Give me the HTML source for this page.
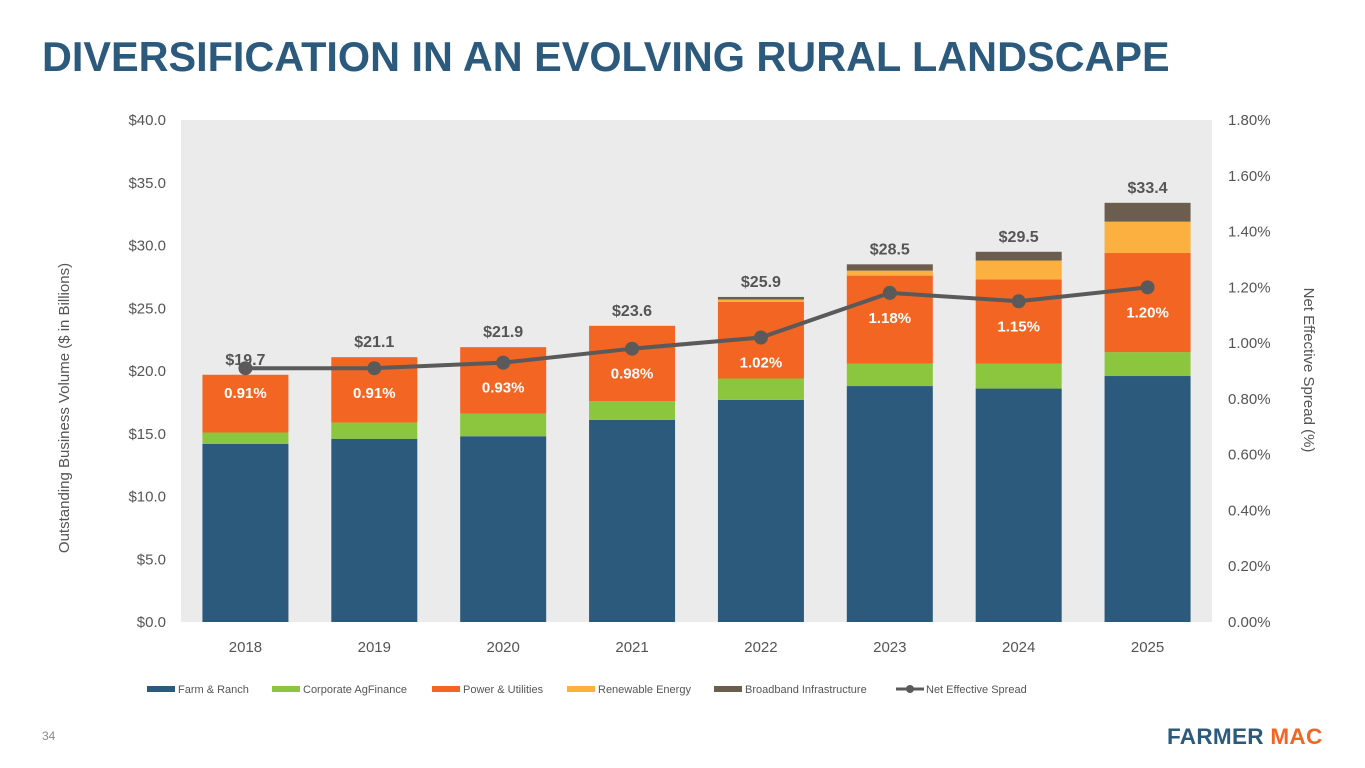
<!DOCTYPE html>
<html><head><meta charset="utf-8"><style>
body{margin:0;width:1365px;height:768px;background:#fff;font-family:"Liberation Sans",sans-serif;overflow:hidden;position:relative}
#title{position:absolute;left:42px;top:34px;font-size:41.4px;font-weight:bold;color:#2b5a7d;letter-spacing:0px;margin:0}
#pg{position:absolute;left:42px;top:729px;font-size:12px;color:#888}
#logo{position:absolute;left:1167px;top:724px;font-size:22.5px;font-weight:bold;color:#2b5a7d;letter-spacing:0.3px}
#logo span{color:#f26522}
svg{position:absolute;left:0;top:0}
</style></head><body>
<h1 id="title">DIVERSIFICATION IN AN EVOLVING RURAL LANDSCAPE</h1>
<div id="pg">34</div>
<div id="logo">FARMER <span>MAC</span></div>
<svg id="chart" width="1365" height="768"></svg>
<script>
const years=["2018","2019","2020","2021","2022","2023","2024","2025"];
const farm=[14.2,14.6,14.8,16.1,17.7,18.8,18.6,19.6];
const corp=[0.9,1.3,1.8,1.5,1.7,1.8,2.0,1.9];
const power=[4.6,5.2,5.3,6.0,6.1,7.0,6.7,7.9];
const renew=[0,0,0,0,0.2,0.4,1.5,2.5];
const broad=[0,0,0,0,0.2,0.5,0.7,1.5];
const totals=["$19.7","$21.1","$21.9","$23.6","$25.9","$28.5","$29.5","$33.4"];
const spread=[0.91,0.91,0.93,0.98,1.02,1.18,1.15,1.20];
const leftTicks=[0,5,10,15,20,25,30,35,40];
const rightTicks=[0,0.2,0.4,0.6,0.8,1.0,1.2,1.4,1.6,1.8];
const seriesNames=["Farm & Ranch","Corporate AgFinance","Power & Utilities","Renewable Energy","Broadband Infrastructure"];
const colors=["#2b5a7d","#8cc63f","#f26522","#fbb040","#6b5e4f"];
const PX0=181,PX1=1212,PY0=622,PY1=120;
const y=v=>PY0-(v/40)*(PY0-PY1);
const yr=v=>PY0-(v/1.8)*(PY0-PY1);
const step=(PX1-PX0)/years.length;
const xc=i=>PX0+step*(i+0.5);
const BW=86;
const svg=document.getElementById('chart');
const NS="http://www.w3.org/2000/svg";
function mk(t,a,txt){const e=document.createElementNS(NS,t);for(const k in a)e.setAttribute(k,a[k]);if(txt!=null)e.textContent=txt;svg.appendChild(e);return e;}
let e=mk('rect',{x:PX0,y:PY1,width:PX1-PX0,height:PY0-PY1,fill:'#ebebeb'});


leftTicks.forEach(t=>{e=mk('text',{x:166,y:y(t)+5,'text-anchor':'end','font-size':15,fill:'#555'},'$'+t.toFixed(1));

});
rightTicks.forEach(t=>{e=mk('text',{x:1228,y:yr(t)+5,'font-size':15,fill:'#555'},t.toFixed(2)+'%');

});
const segs=[farm,corp,power,renew,broad];
years.forEach((yrL,i)=>{
 let base=0;
 segs.forEach((s,k)=>{const v=s[i];if(v>0){e=mk('rect',{x:xc(i)-BW/2,y:y(base+v),width:BW,height:y(base)-y(base+v),fill:colors[k]});
 
 }base+=v;});
 e=mk('text',{x:xc(i),y:y(base)-10,'text-anchor':'middle','font-size':16,'font-weight':'bold',fill:'#555'},totals[i]);
 
 
 e=mk('text',{x:xc(i),y:652,'text-anchor':'middle','font-size':15,fill:'#555'},yrL);
 
 
 e=mk('text',{x:xc(i),y:yr(spread[i])+30,'text-anchor':'middle','font-size':15,'font-weight':'bold',fill:'#fff'},spread[i].toFixed(2)+'%');
 
 
});
e=mk('polyline',{points:spread.map((v,i)=>xc(i)+','+yr(v)).join(' '),fill:'none',stroke:'#5a5a5a','stroke-width':4});


spread.forEach((v,i)=>{e=mk('circle',{cx:xc(i),cy:yr(v),r:7,fill:'#5a5a5a'});

});
e=mk('text',{x:0,y:0,transform:'translate(69,408) rotate(-90)','text-anchor':'middle','font-size':15,fill:'#555'},'Outstanding Business Volume ($ in Billions)');


e=mk('text',{x:0,y:0,transform:'translate(1304,370) rotate(90)','text-anchor':'middle','font-size':15,fill:'#555'},'Net Effective Spread (%)');


const legX=[147,272,432,567,714,896];
seriesNames.forEach((n,k)=>{
 e=mk('rect',{x:legX[k],y:686,width:28,height:6,fill:colors[k]});
 
 
 e=mk('text',{x:legX[k]+31,y:693,'font-size':11,fill:'#555'},n);
 
 
});
e=mk('line',{x1:896,y1:689,x2:924,y2:689,stroke:'#5a5a5a','stroke-width':3});


e=mk('circle',{cx:910,cy:689,r:4,fill:'#5a5a5a'});


e=mk('text',{x:926,y:693,'font-size':11,fill:'#555'},'Net Effective Spread');


</script>
</body></html>
